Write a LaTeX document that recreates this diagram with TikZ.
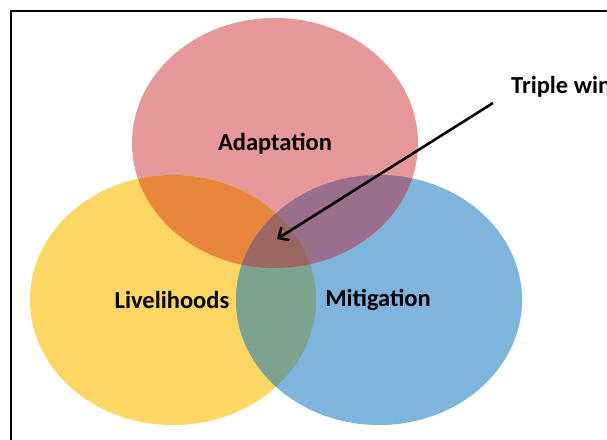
\documentclass[tikz,border=0pt]{standalone}
\usepackage{fontspec}
\setmainfont{Carlito}
\usetikzlibrary{arrows.meta}
\definecolor{cRed}{HTML}{E6989A}
\definecolor{cYel}{HTML}{FDD663}
\definecolor{cBlu}{HTML}{7FB4DC}
\definecolor{cRY}{HTML}{E8873B}
\definecolor{cRB}{HTML}{9B6E8D}
\definecolor{cYB}{HTML}{7CA290}
\definecolor{cRYB}{HTML}{9B6760}
\tikzset{
  lbl/.style={font=\bfseries\fontsize{24.5}{28}\selectfont, text=black, inner sep=0pt},
  frame/.style={draw=black, line width=2pt},
  pointer/.style={line width=2.6pt, -{Straight Barb[length=8pt, width=15pt, line width=2.6pt]}},
}
\newcommand{\redE}{(275,143) ellipse [x radius=143, y radius=125]}
\newcommand{\yelE}{(173,300) ellipse [x radius=143, y radius=125]}
\newcommand{\bluE}{(379,300) ellipse [x radius=143, y radius=125]}
\begin{document}
\begin{tikzpicture}[x=1pt, y=-1pt]
\useasboundingbox (0,0) rectangle (607,439);
\fill[white] (0,0) rectangle (607,439);
\draw[frame] (11,11) rectangle (640,470);
\fill[cRed] \redE;
\fill[cYel] \yelE;
\fill[cBlu] \bluE;
\begin{scope}\clip \redE; \fill[cRY] \yelE; \fill[cRB] \bluE; \end{scope}
\begin{scope}\clip \yelE; \fill[cYB] \bluE; \end{scope}
\begin{scope}\clip \redE; \clip \yelE; \fill[cRYB] \bluE; \end{scope}
\node[lbl] (adapt) at (275,144) {Adaptation};
\node[lbl] (live) at (172,300) {Livelihoods};
\node[lbl] (miti) at (378,300) {Mitigation};
\node[lbl, anchor=base west] (triple) at (511,93) {Triple win};
\coordinate (tail) at (493,103);
\coordinate (center) at (277,239);
\draw[pointer] (tail) -- (center);
\end{tikzpicture}
\end{document}
